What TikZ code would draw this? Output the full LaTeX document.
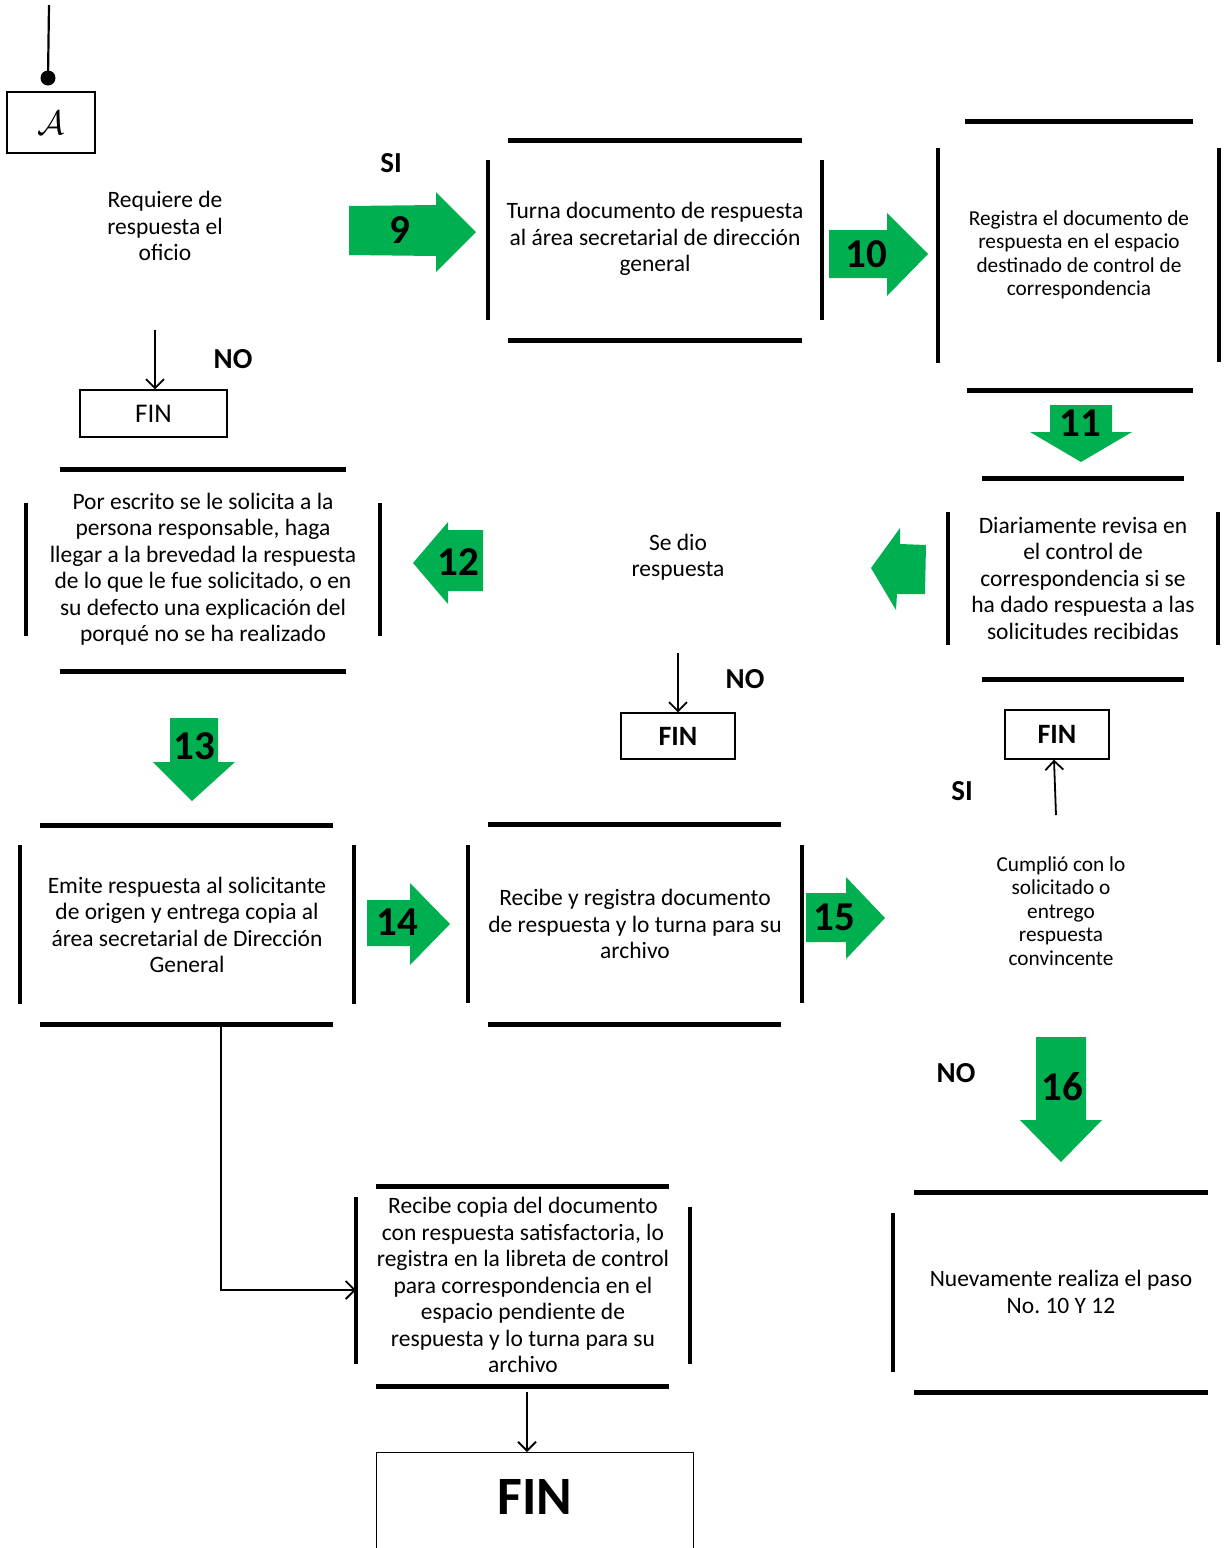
\documentclass[tikz,border=0pt]{standalone}
\usepackage{fontspec}
\usepackage{graphicx}
\setmainfont{Carlito}
\usetikzlibrary{arrows.meta}
\definecolor{gr}{HTML}{00B050}
\frenchspacing
\begin{document}
\frenchspacing
\begin{tikzpicture}[x=1pt,y=-1pt,
  hbar/.style={line width=5pt},
  vbar/.style={line width=4pt},
  txt/.style={align=center,inner sep=0pt,font=\frenchspacing\fontsize{23.5}{26.5}\selectfont},
  stxt/.style={align=center,inner sep=0pt,font=\frenchspacing\fontsize{21.3}{23.5}\selectfont},
  lbl/.style={inner sep=0pt,font=\bfseries\fontsize{29}{30}\selectfont},
  num/.style={inner sep=0pt,font=\bfseries\fontsize{41}{41}\selectfont},
  finbox/.style={draw,line width=1.3pt,inner sep=0pt},
  conn/.style={line width=1.8pt,-{Straight Barb[length=9pt,width=18pt,line width=1.8pt]}},
  garrow/.style={fill=gr}]
\useasboundingbox (0,0) rectangle (1224,1548);
\fill[white] (0,0) rectangle (1224,1548);

% ---- start connector A
\node[finbox,minimum width=88pt,minimum height=61pt] (A) at (51,122.5) {\scalebox{3.4}{$\mathcal{A}$}};
\coordinate (top) at (49,5);
\coordinate (dot) at (48,78);
\draw[line width=2.2pt] (top) -- (dot);
\fill (dot) circle (7.5pt);

% ---- decision: requiere
\node[txt] (req) at (165,226) {Requiere de\\respuesta el\\oficio};
\node[lbl] (si1) at (391,163) {SI};
\node[lbl] (no1) at (233,359) {NO};
\node[finbox,minimum width=147pt,minimum height=47pt,font=\fontsize{27}{27}\selectfont] (fin1) at (153.5,413.5) {FIN};
\coordinate (reqd) at (155,330);
\draw[conn] (reqd) -- (fin1.north -| reqd);

% ---- Turna
\node[txt] (turna) at (655,239) {Turna documento de respuesta\\al área secretarial de dirección\\general};
\draw[hbar] (508,140) -- (802,140);
\draw[hbar] (508,340) -- (802,340);
\draw[vbar] (488,160) -- (488,320);
\draw[vbar] (822,160) -- (822,320);

% arrow 9
\fill[garrow] (349,206) -- (436,205) -- (436,192) -- (476,232) -- (436,272) -- (436,256) -- (349,255) -- cycle;
\node[num] (n9) at (400,230) {9};

% arrow 10
\fill[garrow] (829,230) -- (887,230) -- (887,213) -- (928,254) -- (887,296) -- (887,278) -- (829,278) -- cycle;
\node[num] (n10) at (866,254) {10};

% ---- Registra
\node[stxt] (reg) at (1079,255) {Registra el documento de\\respuesta en el espacio\\destinado de control de\\correspondencia};
\draw[hbar] (965,121) -- (1193,121);
\draw[hbar] (967,390) -- (1193,390);
\draw[vbar] (938,148) -- (938,363);
\draw[vbar] (1219,148) -- (1219,362);

% arrow 11
\fill[garrow] (1050,405) -- (1112,405) -- (1112,432) -- (1132,432) -- (1081,462) -- (1030,432) -- (1050,432) -- cycle;
\node[num] (n11) at (1080,423) {11};

% ---- Diariamente
\node[txt] (diar) at (1083,578) {Diariamente revisa en\\el control de\\correspondencia si se\\ha dado respuesta a las\\solicitudes recibidas};
\draw[hbar] (982,478) -- (1184,478);
\draw[hbar] (982,679) -- (1184,679);
\draw[vbar] (948,512) -- (948,645);
\draw[vbar] (1218,512) -- (1218,645);

% unlabeled left arrow
\fill[garrow] (926,545) -- (900,544) -- (900,528) -- (871,568) -- (896,610) -- (897,594) -- (925,594) -- cycle;

% ---- Se dio respuesta
\node[txt] (sedio) at (678,557) {Se dio\\respuesta};
\node[lbl] (no2) at (745,679) {NO};
\node[finbox,minimum width=114pt,minimum height=46pt,font=\bfseries\fontsize{28}{28}\selectfont] (fin2) at (678,736) {FIN};
\coordinate (sedd) at (678,653);
\draw[conn] (sedd) -- (fin2.north);

% arrow 12
\fill[garrow] (483,530) -- (448,530) -- (448,522) -- (413,563) -- (448,604) -- (448,591) -- (483,591) -- cycle;
\node[num] (n12) at (458,562) {12};

% ---- Por escrito
\node[txt] (esc) at (203,569) {Por escrito se le solicita a la\\persona responsable, haga\\llegar a la brevedad la respuesta\\de lo que le fue solicitado, o en\\su defecto una explicación del\\porqué no se ha realizado};
\draw[hbar] (60,469) -- (346,469);
\draw[hbar] (60,671) -- (346,671);
\draw[vbar] (26,503) -- (26,636);
\draw[vbar] (380,503) -- (380,636);

% arrow 13
\fill[garrow] (170,718) -- (218,718) -- (218,762) -- (235,762) -- (192,801) -- (153,762) -- (170,762) -- cycle;
\node[num] (n13) at (194,746) {13};

% ---- Emite
\node[txt] (emite) at (187,925) {Emite respuesta al solicitante\\de origen y entrega copia al\\área secretarial de Dirección\\General};
\draw[hbar] (40,825) -- (333,825);
\draw[hbar] (40,1024) -- (333,1024);
\draw[vbar] (20,845) -- (20,1004);
\draw[vbar] (354,845) -- (354,1004);

% arrow 14
\fill[garrow] (367,900) -- (410,900) -- (410,883) -- (450,924) -- (410,965) -- (410,946) -- (367,946) -- cycle;
\node[num] (n14) at (397,922) {14};

% ---- Recibe y registra
\node[txt] (rec) at (635,924) {Recibe y registra documento\\de respuesta y lo turna para su\\archivo};
\draw[hbar] (488,824) -- (781,824);
\draw[hbar] (488,1024) -- (781,1024);
\draw[vbar] (468,845) -- (468,1003);
\draw[vbar] (802,845) -- (802,1003);

% arrow 15
\fill[garrow] (806,893) -- (846,893) -- (846,877) -- (885,918) -- (846,959) -- (846,942) -- (806,942) -- cycle;
\node[num] (n15) at (834,917) {15};

% ---- Cumplió
\node[stxt] (cump) at (1061,911) {Cumplió con lo\\solicitado o\\entrego\\respuesta\\convincente};
\node[lbl] (si2) at (962,791) {SI};
\node[finbox,minimum width=104pt,minimum height=49pt,font=\bfseries\fontsize{28}{28}\selectfont] (fin3) at (1057,734.5) {FIN};
\coordinate (cumpu) at (1056,815);
\draw[conn] (cumpu) -- (fin3.south -| 1054,0);
\node[lbl] (no3) at (956,1073) {NO};

% arrow 16
\fill[garrow] (1036,1037) -- (1086,1037) -- (1086,1120) -- (1102,1120) -- (1061,1162) -- (1020,1120) -- (1036,1120) -- cycle;
\node[num] (n16) at (1062,1087) {16};

% ---- Nuevamente
\node[txt] (nuev) at (1061,1292) {Nuevamente realiza el paso\\No.\ 10 Y 12};
\draw[hbar] (914,1192) -- (1208,1192);
\draw[hbar] (914,1392) -- (1208,1392);
\draw[vbar] (893,1213) -- (893,1372);

% ---- Recibe copia
\node[txt] (copia) at (523,1285) {Recibe copia del documento\\con respuesta satisfactoria, lo\\registra en la libreta de control\\para correspondencia en el\\espacio pendiente de\\respuesta y lo turna para su\\archivo};
\draw[hbar] (376,1186) -- (669,1186);
\draw[hbar] (376,1386) -- (669,1386);
\draw[vbar] (356,1197) -- (356,1364);
\draw[vbar] (690,1207) -- (690,1364);

% elbow connector from Emite to Recibe copia
\coordinate (emb) at (221,1024);
\coordinate (cpl) at (356,1290);
\draw[line width=1.8pt,-{Straight Barb[length=9pt,width=18pt,line width=1.8pt]}] (emb) |- (cpl);

% big FIN
\node[draw,line width=1.3pt,minimum width=317pt,minimum height=110pt,anchor=north west,inner sep=0pt] (finbig) at (376,1452) {};
\node[inner sep=0pt,font=\bfseries\fontsize{54}{54}\selectfont] (finbigt) at (535,1497) {FIN};
\coordinate (copb) at (527,1392);
\draw[conn] (copb) -- (finbig.north -| copb);
\end{tikzpicture}
\end{document}
